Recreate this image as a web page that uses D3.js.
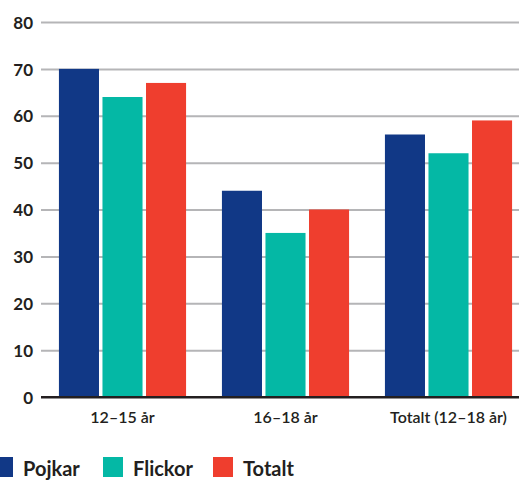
<!DOCTYPE html>
<html><head><meta charset="utf-8">
<script src="https://cdn.jsdelivr.net/npm/d3@7"></script>
<style>body{margin:0;background:#fff}svg{display:block}</style>
</head><body><svg id="c" width="519" height="480"></svg>
<script>
const categories = ["12–15 år", "16–18 år", "Totalt (12–18 år)"];
const seriesNames = ["Pojkar", "Flickor", "Totalt"];
const pojkar = [70, 44, 56];
const flickor = [64, 35, 52];
const totalt = [67, 40, 59];
const yTicks = [0, 10, 20, 30, 40, 50, 60, 70, 80];
const colors = ["#113886", "#04b8a5", "#ef3e2e"];

const seriesValues = [pojkar, flickor, totalt];
const svg = d3.select("#c");
const font = "Lato, 'Open Sans', sans-serif";

const y = d3.scaleLinear().domain([0, 80]).range([397, 22]);
const x0 = d3.scaleBand().domain(categories).range([41, 530]).paddingInner(0.22).paddingOuter(0.11);
const x1 = d3.scaleBand().domain(seriesNames).range([0, x0.bandwidth()]).paddingInner(0.08);

// gridlines
const yAxis = d3.axisLeft(y).tickValues(yTicks).tickSize(-(519 - 41)).tickPadding(8);
const gy = svg.append("g").attr("transform", "translate(41,0)").call(yAxis);
gy.select(".domain").remove();
gy.selectAll(".tick line").attr("stroke", d => d === 0 ? "#231f20" : "#b5b5b7").attr("stroke-width", 2);
gy.selectAll(".tick text").attr("fill", "#231f20").attr("font-family", font)
  .attr("font-weight", "bold").attr("font-size", 17).attr("x", -8).attr("dy", "0.36em");

// bars
const groups = svg.append("g").selectAll("g").data(categories).join("g")
  .attr("transform", d => `translate(${x0(d)},0)`);
groups.selectAll("rect").data((d, i) => seriesNames.map((s, j) => ({s, v: seriesValues[j][i], j})))
  .join("rect")
  .attr("x", d => x1(d.s)).attr("width", x1.bandwidth())
  .attr("y", d => y(d.v)).attr("height", d => y(0) - y(d.v))
  .attr("fill", d => colors[d.j]);

// baseline on top
svg.append("line").attr("x1", 41).attr("x2", 519).attr("y1", y(0)).attr("y2", y(0))
  .attr("stroke", "#231f20").attr("stroke-width", 2);

// x axis labels
const xAxis = d3.axisBottom(x0).tickSize(0).tickPadding(15);
const gx = svg.append("g").attr("transform", `translate(0,${y(0)})`).call(xAxis);
gx.select(".domain").remove();
gx.selectAll(".tick text").attr("fill", "#231f20").attr("font-family", font)
  .attr("font-weight", 600).attr("font-size", 16);

// legend
const leg = svg.append("g").selectAll("g").data(seriesNames).join("g")
  .attr("transform", (d, i) => `translate(${-7 + i * 110},457)`);
leg.append("rect").attr("width", 20).attr("height", 20).attr("fill", (d, i) => colors[i]);
leg.append("text").attr("x", 30).attr("y", 19).text(d => d)
  .attr("fill", "#231f20").attr("font-family", font).attr("font-weight", "bold").attr("font-size", 20);
</script></body></html>
